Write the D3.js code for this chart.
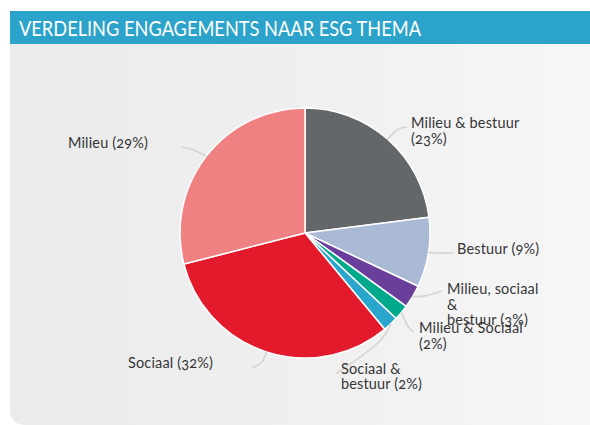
<!DOCTYPE html>
<html>
<head>
<meta charset="utf-8">
<script src="https://cdn.jsdelivr.net/npm/d3@7/dist/d3.min.js"></script>
<style>
  html, body { margin: 0; padding: 0; background: #fff; }
  svg { display: block; }
  .lbl { font-family: Lato, "Open Sans", sans-serif; font-size: 14.5px; letter-spacing: 0.15px; fill: #363636; font-variant-numeric: oldstyle-nums; font-feature-settings: "onum" 1; }
</style>
</head>
<body>
<svg id="chart" width="590" height="425"></svg>
<script>
// ---- data ----
const title = "VERDELING ENGAGEMENTS NAAR ESG THEMA";
const categories = ["Milieu & bestuur", "Bestuur", "Milieu, sociaal & bestuur", "Milieu & Sociaal", "Sociaal & bestuur", "Sociaal", "Milieu"];
const values = [23, 9, 3, 2, 2, 32, 29];
const labelLines = [
  ["Milieu & bestuur", "(23%)"],
  ["Bestuur (9%)"],
  ["Milieu, sociaal", "&", "bestuur (3%)"],
  ["Milieu & Sociaal", "(2%)"],
  ["Sociaal &", "bestuur (2%)"],
  ["Sociaal (32%)"],
  ["Milieu (29%)"]
];
const colors = ["#646769", "#aabad5", "#6a3f9c", "#00a98c", "#2aa5cc", "#e31a2c", "#f08183"];

// ---- layout (label placement, not data) ----
const layout = [
  { elbow: [398, 127], end: [406, 127], text: [411, 128], anchor: "start", lh: 15.6 },
  { elbow: [440, 253], end: [453, 253], text: [457, 254], anchor: "start", lh: 15.6 },
  { elbow: [426, 297], end: [441, 291], text: [447, 294], anchor: "start", lh: 15.6 },
  { elbow: [408, 328], end: [413, 332], text: [419, 333], anchor: "start", lh: 15.6 },
  { elbow: [386, 341], end: [337, 373], text: [341, 374], anchor: "start", lh: 15.4 },
  { elbow: [263, 365], end: [253, 367], text: [213, 368], anchor: "end", lh: 15.6 },
  { elbow: [191, 148], end: [182, 147], text: [148, 148], anchor: "end", lh: 15.6 }
];

const W = 590, H = 425;
const cx = 305, cy = 233, R = 125;
const svg = d3.select("#chart");

// background gradient
const defs = svg.append("defs");
const grad = defs.append("linearGradient").attr("id", "bg").attr("x1", "0").attr("x2", "1").attr("y1", "0").attr("y2", "0");
grad.append("stop").attr("offset", "0").attr("stop-color", "#ebebeb");
grad.append("stop").attr("offset", "0.55").attr("stop-color", "#f0f0f1");
grad.append("stop").attr("offset", "1").attr("stop-color", "#f7f7f8");

// panel with rounded bottom-left corner
const px = 10, py = 44, pr = 16;
svg.append("path")
  .attr("d", `M${px},${py} H${W} V${H} H${px + pr} Q${px},${H} ${px},${H - pr} Z`)
  .attr("fill", "url(#bg)");

// title bar
svg.append("rect").attr("x", 10).attr("y", 11).attr("width", W - 10).attr("height", 33).attr("fill", "#2ca3ca");
svg.append("text")
  .attr("x", 19).attr("y", 35.5)
  .attr("font-family", "Lato, 'Open Sans', sans-serif")
  .attr("font-size", 21.5)
  .attr("fill", "#ffffff")
  .attr("textLength", 402)
  .attr("lengthAdjust", "spacingAndGlyphs")
  .text(title);

// pie
const pie = d3.pie().sort(null).value(d => d.v).startAngle(0).endAngle(2 * Math.PI);
const data = categories.map((c, i) => ({ c, v: values[i], i }));
const arcs = pie(data);
const arc = d3.arc().innerRadius(0).outerRadius(R);
const edgeArc = d3.arc().innerRadius(R).outerRadius(R);

const g = svg.append("g").attr("transform", `translate(${cx},${cy})`);
g.selectAll("path.slice").data(arcs).join("path")
  .attr("class", "slice")
  .attr("d", arc)
  .attr("fill", d => colors[d.data.i])
  .attr("stroke", "#ffffff")
  .attr("stroke-width", 1.5)
  .attr("stroke-linejoin", "round");

// connectors
const line = d3.line().curve(d3.curveBundle.beta(0.85));
svg.selectAll("path.conn").data(arcs).join("path")
  .attr("class", "conn")
  .attr("d", d => {
    const c = edgeArc.centroid(d);
    const L = layout[d.data.i];
    return line([[cx + c[0], cy + c[1]], L.elbow, L.end]);
  })
  .attr("fill", "none")
  .attr("stroke", "#d4d4d4")
  .attr("stroke-width", 1.6)
  .attr("stroke-linecap", "round");

// labels
arcs.forEach(d => {
  const L = layout[d.data.i];
  const t = svg.append("text").attr("class", "lbl")
    .attr("x", L.text[0]).attr("y", L.text[1])
    .attr("text-anchor", L.anchor);
  labelLines[d.data.i].forEach((s, k) => {
    t.append("tspan").attr("x", L.text[0]).attr("y", L.text[1] + k * L.lh).text(s);
  });
});
</script>
</body>
</html>
